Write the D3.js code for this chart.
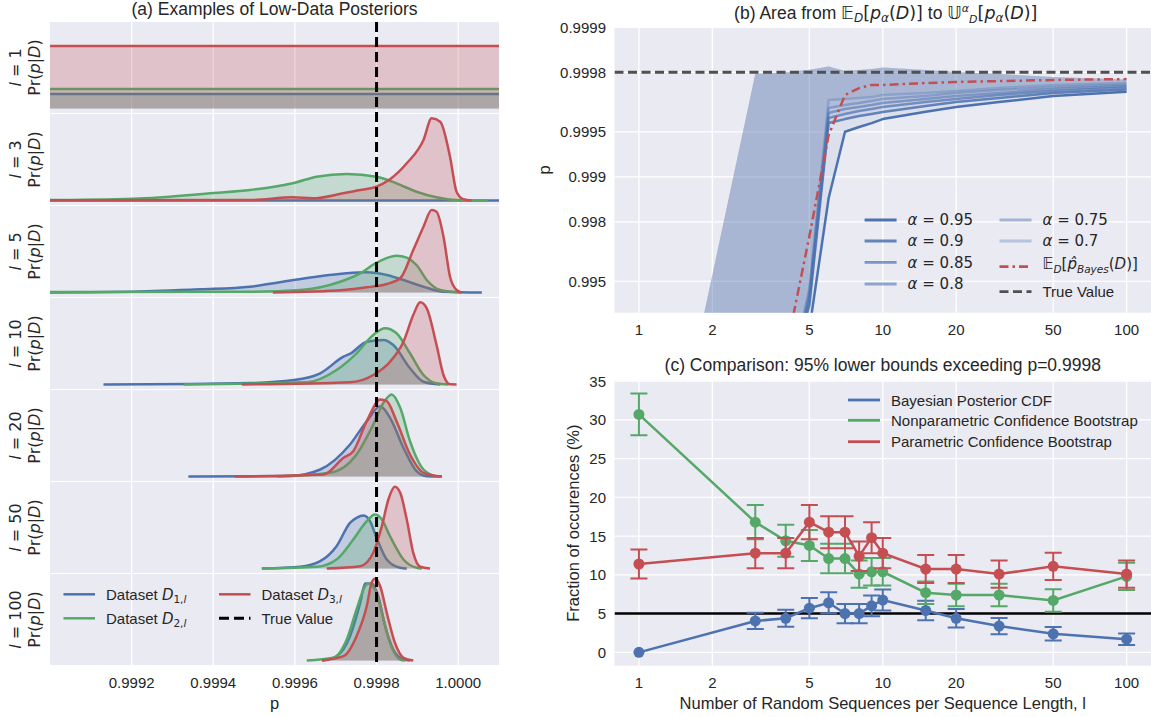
<!DOCTYPE html>
<html><head><meta charset="utf-8">
<script src="https://cdn.jsdelivr.net/npm/d3@7"></script>
<style>body{margin:0;background:#fff;} text{fill:#262626;}</style>
</head><body>
<script>
// ===================== DATA =====================
// (a) posterior densities, relative units (no y ticks in original), [p, density]
const lValues = [1, 3, 5, 10, 20, 50, 100];
const pTicksA = [0.9992, 0.9994, 0.9996, 0.9998, 1.0000];
const pTickLabelsA = ["0.9992", "0.9994", "0.9996", "0.9998", "1.0000"];
const trueValue = 0.9998;

const postD1 = [
  [[0.9985,14.5],[1.0005,14.5]],
  [[0.9985,0],[1.0005,0]],
  [[0.9985,0],[0.999,0],[0.999203,0.8],[0.999368,3.2],[0.99949,5.8],[0.999571,10.8],[0.999653,15.8],[0.999727,19.2],[0.999776,20.2],[0.999825,17.5],[0.999866,12.5],[0.999915,5.8],[0.999964,0.8],[1.000058,0]],
  [[0.999131,0],[0.99949,1.5],[0.999598,4.5],[0.999662,11.2],[0.999719,27.8],[0.999737,31.2],[0.999776,42.8],[0.999817,44.5],[0.999841,39.5],[0.999882,16.2],[0.999915,2.8],[0.999956,0]],
  [[0.999339,0],[0.999588,0.5],[0.999662,7],[0.999735,32],[0.999776,55.3],[0.999809,70.3],[0.999833,58.7],[0.999866,28.7],[0.999898,5.3],[0.999923,0.3],[0.99996,0]],
  [[0.999519,0],[0.999613,1.7],[0.999662,7.3],[0.999702,22.3],[0.999735,45.7],[0.999751,50.7],[0.999768,53],[0.999784,47.3],[0.9998,30.7],[0.999825,9],[0.999858,0.7],[0.999874,0]],
  [[0.999667,0],[0.999702,4.3],[0.999735,24.3],[0.99976,57.7],[0.999772,77],[0.999788,77],[0.999804,64.3],[0.999821,34.3],[0.999841,11],[0.999866,1],[0.999882,0]]
];
const postD2 = [
  [[0.9985,19.5],[1.0005,19.5]],
  [[0.9985,0],[0.999,0.5],[0.999205,1.8],[0.999401,7.5],[0.99949,10.5],[0.9996,17.8],[0.999653,23.8],[0.999727,26.5],[0.9998,23.8],[0.999849,17.2],[0.999898,8.8],[0.999947,3.2],[0.999996,0.5],[1.000073,0]],
  [[0.9985,0],[0.99949,0.8],[0.999613,2.5],[0.999711,10.8],[0.99976,19.2],[0.9998,29.8],[0.999849,36.8],[0.999874,34.8],[0.999898,27.5],[0.999923,12.5],[0.999956,2.5],[1.000005,0]],
  [[0.999327,0],[0.999629,2.2],[0.999702,14.5],[0.999751,31.2],[0.999792,49.5],[0.999821,56.2],[0.999849,51.2],[0.999882,31.2],[0.999915,9.5],[0.999947,1.2],[0.999976,0]],
  [[0.999556,0],[0.999686,3.7],[0.999751,22],[0.999792,52],[0.999817,73.7],[0.999837,82],[0.999858,68.7],[0.999882,35.3],[0.999915,7],[0.999947,0.3],[0.99996,0]],
  [[0.999519,0],[0.999653,1.7],[0.999702,9],[0.999743,29],[0.999776,47.3],[0.999796,54],[0.999813,49],[0.999833,32.3],[0.999866,9],[0.999898,0.7],[0.999911,0]],
  [[0.999629,0],[0.999694,2.7],[0.999727,21],[0.999751,51],[0.999772,74.3],[0.99978,77],[0.999796,71],[0.999813,47.7],[0.999833,17.7],[0.999858,1],[0.99987,0]]
];
const postD3 = [
  [[0.9985,62.5],[1.0005,62.5]],
  [[0.9985,0],[0.99949,0.5],[0.999595,3.2],[0.999644,2.2],[0.999718,7.2],[0.99976,10.5],[0.999796,13.2],[0.999833,21.2],[0.999874,37.2],[0.999915,60.5],[0.999935,82.2],[0.999956,78.8],[0.99998,43.8],[0.999996,8.8],[1.000013,1.2],[1.000033,0]],
  [[0.999546,0],[0.999719,2.5],[0.999776,5.2],[0.999825,8.5],[0.999858,14.2],[0.99989,42.5],[0.999915,65.8],[0.999935,82.5],[0.999947,80.8],[0.999964,55.8],[0.99998,15.8],[0.999996,2.5],[1.000009,0]],
  [[0.99947,0],[0.999735,2.2],[0.999792,9.5],[0.999833,22.8],[0.999866,42.8],[0.99989,69.5],[0.999907,82.2],[0.999923,76.2],[0.999947,39.5],[0.999964,9.5],[0.99998,0.2],[0.999996,0]],
  [[0.999453,0],[0.99967,2],[0.999719,18.7],[0.999743,25.3],[0.999776,55.3],[0.999809,77],[0.999825,75.3],[0.999849,55.3],[0.999882,22],[0.999915,3.7],[0.99996,0]],
  [[0.999678,0],[0.99976,2.3],[0.999792,15.7],[0.999813,42.3],[0.999829,69],[0.999845,81.7],[0.999858,75.7],[0.999874,49],[0.99989,15.7],[0.999907,1.7],[0.999931,0]],
  [[0.999666,0],[0.999719,4.3],[0.999751,24.3],[0.999776,54.3],[0.999788,77.7],[0.999796,81.7],[0.999809,74.3],[0.999825,47.7],[0.999845,17.7],[0.999866,2.7],[0.99989,0]]
];

// (b) and (c) shared x: number of random sequences per sequence length
const nSeq = [1, 3, 4, 5, 6, 7, 8, 9, 10, 15, 20, 30, 50, 100];
const logTicks = [1, 2, 5, 10, 20, 50, 100];
const alphaLevels = ["0.95", "0.9", "0.85", "0.8", "0.75", "0.7"];
const pAlpha95 = [0.3, 0.9, 0.97, 0.98958, 0.998614, 0.999501, 0.999536, 0.999563, 0.999589, 0.999633, 0.999659, 0.999684, 0.999712, 0.99973];
const pAlpha90 = [0.3, 0.9, 0.97, 0.992796, 0.999563, 0.999589, 0.999608, 0.99962, 0.999631, 0.999664, 0.999684, 0.999703, 0.999725, 0.999739];
const pAlpha85 = [0.3, 0.9, 0.97, 0.993329, 0.999596, 0.99962, 0.999637, 0.999648, 0.999659, 0.999684, 0.999698, 0.999716, 0.999733, 0.999747];
const pAlpha80 = [0.3, 0.9, 0.97, 0.99373, 0.999626, 0.999648, 0.999659, 0.999669, 0.999679, 0.999698, 0.999712, 0.999725, 0.999741, 0.999753];
const pAlpha75 = [0.3, 0.9, 0.97, 0.994104, 0.999653, 0.999669, 0.999679, 0.999689, 0.999698, 0.999712, 0.999725, 0.999737, 0.999749, 0.999759];
const pAlpha70 = [0.3, 0.9, 0.97, 0.994457, 0.999694, 0.999698, 0.999703, 0.999707, 0.999716, 0.999725, 0.999733, 0.999745, 0.999757, 0.999764];
const pUpper   = [0.1, 0.999795, 0.9998, 0.999808, 0.999817, 0.999804, 0.999807, 0.99981, 0.999814, 0.999807, 0.999801, 0.999795, 0.999785, 0.999777];
const pBayesMean = [0.5, 0.95, 0.985, 0.9975, 0.999475, 0.999716, 0.999745, 0.999757, 0.999757, 0.999764, 0.999768, 0.999771, 0.999775, 0.999778];
const pTicksB = [0.9999, 0.9998, 0.9995, 0.999, 0.998, 0.995];
const pTickLabelsB = ["0.9999", "0.9998", "0.9995", "0.999", "0.998", "0.995"];

// (c) fraction of occurrences (%) with error bars
const fracTicks = [0, 5, 10, 15, 20, 25, 30, 35];
const fracBayes  = [0.0, 4.05, 4.4, 5.7, 6.4, 5.0, 5.0, 6.0, 6.75, 5.4, 4.4, 3.4, 2.4, 1.7];
const errBayes   = [0.0, 1.05, 1.1, 1.3, 1.35, 1.25, 1.25, 1.35, 1.35, 1.27, 1.2, 1.05, 0.87, 0.75];
const fracNonpar = [30.7, 16.8, 14.4, 13.8, 12.1, 12.1, 10.1, 10.4, 10.4, 7.7, 7.4, 7.4, 6.7, 9.8];
const errNonpar  = [2.7, 2.2, 2.05, 2.0, 1.9, 1.9, 1.75, 1.77, 1.77, 1.45, 1.45, 1.45, 1.45, 1.75];
const fracPar    = [11.4, 12.8, 12.8, 16.8, 15.5, 15.5, 12.4, 14.8, 12.8, 10.75, 10.75, 10.1, 11.1, 10.1];
const errPar     = [1.87, 1.95, 1.95, 2.2, 2.07, 2.07, 1.9, 2.0, 1.95, 1.8, 1.8, 1.75, 1.75, 1.75];
const nominalLevel = 5;

// ===================== DRAWING =====================
const W = 1151, H = 717;
const FONT = "'Liberation Sans', Arial, sans-serif";
const MATH = "'DejaVu Sans', sans-serif";
const BG = "#EAEAF2";
const C = {blue: "#4C72B0", green: "#55A868", red: "#C44E52"};
const svg = d3.select("body").append("svg").attr("width", W).attr("height", H);
svg.append("rect").attr("width", W).attr("height", H).attr("fill", "#fff");
const defs = svg.append("defs");

function rich(sel, x, y, parts, anchor, size, family) {
  const t = sel.append("text").attr("x", x).attr("y", y)
    .attr("text-anchor", anchor || "start")
    .style("font-family", family || FONT).style("font-size", size + "px").style("fill", "#262626");
  let cur = 0;
  parts.forEach(p => {
    const sh = p.sh || 0;
    const ts = t.append("tspan").text(p.t).attr("dy", (sh - cur) + "px");
    cur = sh;
    if (p.dx) ts.attr("dx", p.dx + "px");
    if (p.i) ts.style("font-style", "italic");
    if (p.s) ts.style("font-size", p.s + "px");
    if (p.f) ts.style("font-family", p.f);
  });
  return t;
}
function label(sel, x, y, txt, size, anchor, family) {
  return sel.append("text").attr("x", x).attr("y", y).attr("text-anchor", anchor || "middle")
    .attr("dominant-baseline", "central")
    .style("font-family", family || FONT).style("font-size", size + "px").style("fill", "#262626").text(txt);
}

// ---------- (a) ----------
const xA = d3.scaleLinear().domain([0.999, 1.0001]).range([50, 499]);
const aTop = 22, aH = 91, aStep = 92;
const seriesA = [{d: postD1, c: C.blue}, {d: postD2, c: C.green}, {d: postD3, c: C.red}];
label(svg, 274.5, 9, "(a) Examples of Low-Data Posteriors", 17.5);
lValues.forEach((l, i) => {
  const top = aTop + i * aStep;
  const y = d3.scaleLinear().domain([-4.5, 86.5]).range([top + aH, top]);
  const g = svg.append("g");
  g.append("rect").attr("x", 50).attr("y", top).attr("width", 449).attr("height", aH).attr("fill", BG);
  defs.append("clipPath").attr("id", "clipA" + i).append("rect")
    .attr("x", 50).attr("y", top).attr("width", 449).attr("height", aH);
  g.selectAll(null).data(pTicksA).enter().append("line")
    .attr("x1", d => xA(d)).attr("x2", d => xA(d)).attr("y1", top).attr("y2", top + aH)
    .attr("stroke", "#fff").attr("stroke-width", 1.3);
  const pg = g.append("g").attr("clip-path", `url(#clipA${i})`);
  seriesA.forEach(s => {
    const pts = s.d[i];
    pg.append("path").datum(pts)
      .attr("d", d3.area().x(d => xA(d[0])).y0(y(0)).y1(d => y(d[1])).curve(d3.curveMonotoneX))
      .attr("fill", s.c).attr("fill-opacity", 0.25);
    pg.append("path").datum(pts)
      .attr("d", d3.line().x(d => xA(d[0])).y(d => y(d[1])).curve(d3.curveMonotoneX))
      .attr("fill", "none").attr("stroke", s.c).attr("stroke-width", 2.5).attr("stroke-linejoin", "round");
  });
  const cy = top + aH / 2;
  rich(svg, 0, 0, [{t: "l", i: 1}, {t: " = " + l}], "middle", 16, MATH)
    .attr("dominant-baseline", "central").attr("transform", `translate(15,${cy}) rotate(-90)`);
  rich(svg, 0, 0, [{t: "Pr("}, {t: "p", i: 1}, {t: "|"}, {t: "D", i: 1}, {t: ")"}], "middle", 16, MATH)
    .attr("dominant-baseline", "central").attr("transform", `translate(33.5,${cy}) rotate(-90)`);
});
svg.append("line").attr("x1", xA(trueValue)).attr("x2", xA(trueValue)).attr("y1", aTop).attr("y2", aTop + 6 * aStep + aH)
  .attr("stroke", "#000").attr("stroke-width", 3).attr("stroke-dasharray", "10,5");
pTicksA.forEach((t, k) => label(svg, xA(t), 682, pTickLabelsA[k], 15));
label(svg, 274.5, 703, "p", 16.5);
// legend (a)
const legA = [
  {c: C.blue, x: 63.5, y: 594.3, sub: "1"}, {c: C.green, x: 63.5, y: 618.3, sub: "2"},
  {c: C.red, x: 219, y: 594.3, sub: "3"}
];
legA.forEach(e => {
  svg.append("line").attr("x1", e.x).attr("x2", e.x + 31.5).attr("y1", e.y).attr("y2", e.y)
    .attr("stroke", e.c).attr("stroke-width", 2.5);
  rich(svg, e.x + 42.5, e.y + 5.3, [{t: "Dataset "}, {t: "D", i: 1, f: MATH},
    {t: e.sub + ",", sh: 3.5, s: 10.5, f: MATH}, {t: "l", sh: 3.5, s: 10.5, f: MATH, i: 1}], "start", 15);
});
svg.append("line").attr("x1", 219).attr("x2", 250.5).attr("y1", 618.3).attr("y2", 618.3)
  .attr("stroke", "#000").attr("stroke-width", 3).attr("stroke-dasharray", "10,5");
label(svg, 261.5, 618.3, "True Value", 15, "start");

// ---------- (b) ----------
const bL = 614.5, bR = 1151, bT = 27.3, bB = 312.7;
const xB = d3.scaleLog().domain([0.794, 125.9]).range([bL, bR]);
const yB0 = d3.scaleLog().domain([1e-4, 0.0081]).range([bT, bB]);
const yB = p => yB0(1 - p);
svg.append("rect").attr("x", bL).attr("y", bT).attr("width", bR - bL).attr("height", bB - bT).attr("fill", BG);
defs.append("clipPath").attr("id", "clipB").append("rect").attr("x", bL).attr("y", bT).attr("width", bR - bL).attr("height", bB - bT);
logTicks.forEach(t => svg.append("line").attr("x1", xB(t)).attr("x2", xB(t)).attr("y1", bT).attr("y2", bB).attr("stroke", "#fff").attr("stroke-width", 1.3));
pTicksB.forEach(t => svg.append("line").attr("x1", bL).attr("x2", bR).attr("y1", yB(t)).attr("y2", yB(t)).attr("stroke", "#fff").attr("stroke-width", 1.3));
const gb = svg.append("g").attr("clip-path", "url(#clipB)");
const alphaSeries = [pAlpha95, pAlpha90, pAlpha85, pAlpha80, pAlpha75, pAlpha70];
const alphaOpac = [1, 0.85, 0.7, 0.58, 0.45, 0.33];
alphaSeries.forEach(s => {
  gb.append("path").datum(s)
    .attr("d", d3.area().x((d, j) => xB(nSeq[j])).y0(d => yB(d)).y1((d, j) => yB(pUpper[j])))
    .attr("fill", C.blue).attr("fill-opacity", 0.085);
});
alphaSeries.forEach((s, k) => {
  gb.append("path").datum(s).attr("d", d3.line().x((d, j) => xB(nSeq[j])).y(d => yB(d)))
    .attr("fill", "none").attr("stroke", C.blue).attr("stroke-opacity", alphaOpac[k]).attr("stroke-width", 2.5).attr("stroke-linejoin", "round");
});
gb.append("path").datum(pBayesMean).attr("d", d3.line().x((d, j) => xB(nSeq[j])).y(d => yB(d)))
  .attr("fill", "none").attr("stroke", C.red).attr("stroke-width", 2.5).attr("stroke-dasharray", "9,4,2.5,4");
gb.append("line").attr("x1", bL).attr("x2", bR).attr("y1", yB(trueValue)).attr("y2", yB(trueValue))
  .attr("stroke", "#505050").attr("stroke-width", 3).attr("stroke-dasharray", "9,4.5");
pTicksB.forEach((t, k) => label(svg, 606, yB(t), pTickLabelsB[k], 15, "end"));
logTicks.forEach(t => label(svg, xB(t), 329, String(t), 15));
label(svg, 0, 0, "p", 16.5).attr("transform", "translate(544,170) rotate(-90)");
rich(svg, (bL + bR) / 2 + 3, 18.5, [
  {t: "(b) Area from "}, {t: "𝔼", f: MATH}, {t: "D", i: 1, f: MATH, s: 12, sh: 3.5},
  {t: "[", f: MATH}, {t: "p", i: 1, f: MATH}, {t: "α", i: 1, f: MATH, s: 12, sh: 3.5},
  {t: "(", f: MATH}, {t: "D", i: 1, f: MATH}, {t: ")]", f: MATH}, {t: " to "},
  {t: "𝕌", f: MATH}, {t: "α", i: 1, f: MATH, s: 11, sh: -7}, {t: "D", i: 1, f: MATH, s: 11, sh: 4.5},
  {t: "[", f: MATH}, {t: "p", i: 1, f: MATH}, {t: "α", i: 1, f: MATH, s: 12, sh: 3.5},
  {t: "(", f: MATH}, {t: "D", i: 1, f: MATH}, {t: ")]", f: MATH}
], "middle", 17.5, FONT);
// legend (b)
const legBpos = [[864.6, 220], [864.6, 241], [864.6, 262.3], [864.6, 284], [999.5, 220], [999.5, 241]];
alphaLevels.forEach((a, k) => {
  const [lx, ly] = legBpos[k];
  svg.append("line").attr("x1", lx).attr("x2", lx + 32).attr("y1", ly).attr("y2", ly)
    .attr("stroke", C.blue).attr("stroke-opacity", alphaOpac[k]).attr("stroke-width", 2.8);
  rich(svg, lx + 43, ly + 5.3, [{t: "α", i: 1}, {t: " = " + a}], "start", 15, MATH);
});
svg.append("line").attr("x1", 999.5).attr("x2", 1031.5).attr("y1", 266.7).attr("y2", 266.7)
  .attr("stroke", C.red).attr("stroke-width", 2.8).attr("stroke-dasharray", "9,4,2.5,4");
rich(svg, 1042.5, 269, [{t: "𝔼"}, {t: "D", i: 1, s: 10.5, sh: 3.5}, {t: "["}, {t: "p̂", i: 1},
  {t: "Bayes", i: 1, s: 10.5, sh: 3.5}, {t: "("}, {t: "D", i: 1}, {t: ")]"}], "start", 15, MATH);
svg.append("line").attr("x1", 999.5).attr("x2", 1031.5).attr("y1", 291.7).attr("y2", 291.7)
  .attr("stroke", "#505050").attr("stroke-width", 2.8).attr("stroke-dasharray", "9,4.5");
label(svg, 1042.5, 291.7, "True Value", 15, "start");

// ---------- (c) ----------
const cT = 380.7, cB = 665.7;
const yC = d3.scaleLinear().domain([-1.72, 35.05]).range([cB, cT]);
svg.append("rect").attr("x", bL).attr("y", cT).attr("width", bR - bL).attr("height", cB - cT).attr("fill", BG);
defs.append("clipPath").attr("id", "clipC").append("rect").attr("x", bL).attr("y", cT).attr("width", bR - bL).attr("height", cB - cT);
logTicks.forEach(t => svg.append("line").attr("x1", xB(t)).attr("x2", xB(t)).attr("y1", cT).attr("y2", cB).attr("stroke", "#fff").attr("stroke-width", 1.3));
fracTicks.forEach(t => svg.append("line").attr("x1", bL).attr("x2", bR).attr("y1", yC(t)).attr("y2", yC(t)).attr("stroke", "#fff").attr("stroke-width", 1.3));
const gc = svg.append("g").attr("clip-path", "url(#clipC)");
gc.append("line").attr("x1", bL).attr("x2", bR).attr("y1", yC(nominalLevel)).attr("y2", yC(nominalLevel))
  .attr("stroke", "#000").attr("stroke-width", 2.5);
const seriesC = [
  {v: fracBayes, e: errBayes, c: C.blue, name: "Bayesian Posterior CDF"},
  {v: fracNonpar, e: errNonpar, c: C.green, name: "Nonparametric Confidence Bootstrap"},
  {v: fracPar, e: errPar, c: C.red, name: "Parametric Confidence Bootstrap"}
];
seriesC.forEach(s => {
  gc.append("path").datum(s.v).attr("d", d3.line().x((d, j) => xB(nSeq[j])).y(d => yC(d)))
    .attr("fill", "none").attr("stroke", s.c).attr("stroke-width", 2.5);
  s.v.forEach((v, j) => {
    if (s.e[j] <= 0) return;
    const x = xB(nSeq[j]);
    gc.append("line").attr("x1", x).attr("x2", x).attr("y1", yC(v - s.e[j])).attr("y2", yC(v + s.e[j])).attr("stroke", s.c).attr("stroke-width", 2);
    [v - s.e[j], v + s.e[j]].forEach(b => gc.append("line").attr("x1", x - 8.5).attr("x2", x + 8.5).attr("y1", yC(b)).attr("y2", yC(b)).attr("stroke", s.c).attr("stroke-width", 2));
  });
  gc.selectAll(null).data(s.v).enter().append("circle")
    .attr("cx", (d, j) => xB(nSeq[j])).attr("cy", d => yC(d)).attr("r", 5.5).attr("fill", s.c);
});
fracTicks.forEach(t => label(svg, 606, yC(t), String(t), 15, "end"));
logTicks.forEach(t => label(svg, xB(t), 682.3, String(t), 15));
label(svg, (bL + bR) / 2, 365, "(c) Comparison: 95% lower bounds exceeding p=0.9998", 17.5);
label(svg, (bL + bR) / 2, 702.7, "Number of Random Sequences per Sequence Length, l", 16.5);
label(svg, 0, 0, "Fraction of occurences (%)", 16.5).attr("transform", `translate(573,${(cT + cB) / 2}) rotate(-90)`);
const legCy = [400, 420.3, 441.7];
seriesC.forEach((s, k) => {
  svg.append("line").attr("x1", 848).attr("x2", 880).attr("y1", legCy[k]).attr("y2", legCy[k]).attr("stroke", s.c).attr("stroke-width", 2.8);
  label(svg, 891, legCy[k], s.name, 15, "start");
});
</script>
</body></html>
